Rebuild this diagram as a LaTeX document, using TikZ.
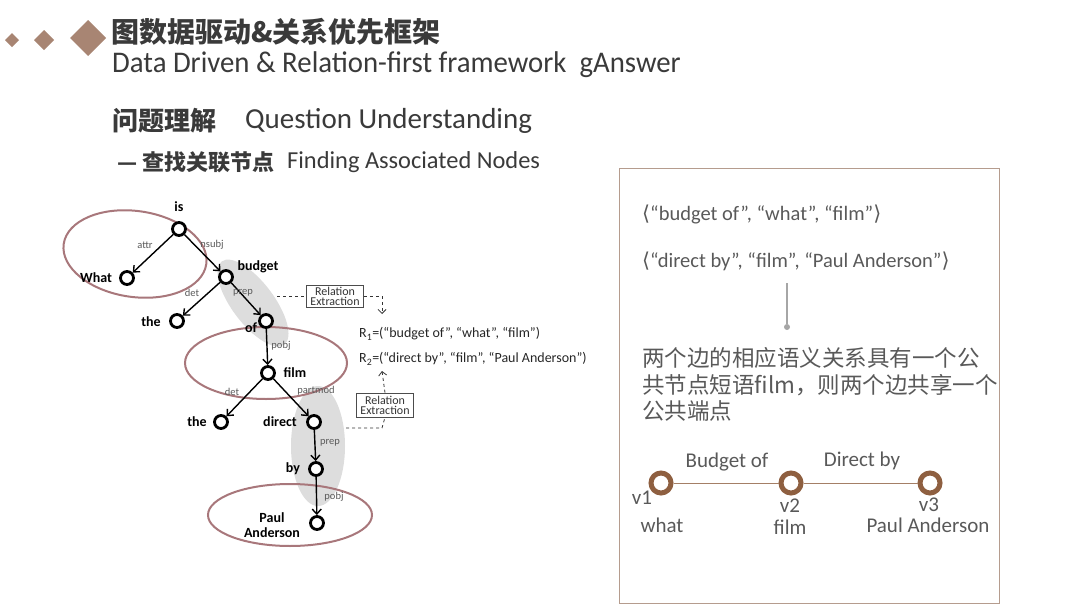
\documentclass[tikz,border=0pt]{standalone}
\usepackage{fontspec}
\setmainfont{Carlito}
\newfontfamily\cjk{Noto Sans CJK SC}
\newfontfamily\dejavu{DejaVu Sans}
\usetikzlibrary{arrows.meta,calc}
\definecolor{titlegray}{HTML}{3A3A3A}
\definecolor{diam}{HTML}{A88573}
\definecolor{textgray}{HTML}{595959}
\definecolor{boxbrown}{HTML}{B59C8E}
\definecolor{ringbrown}{HTML}{8E5F40}
\definecolor{pinkel}{HTML}{A8777B}
\definecolor{shadegray}{HTML}{DDDDDD}
\newcommand{\fs}[1]{\fontsize{#1}{#1}\selectfont}
\tikzset{
  tn/.style={circle,draw=black,line width=2.8pt,fill=white,minimum size=13pt,inner sep=0pt},
  tl/.style={font=\bfseries\fs{14}},
  el/.style={font=\fs{10.5},text=black!65},
  tarr/.style={line width=1.4pt,-{Straight Barb[length=5pt,width=9pt]}},
  relbox/.style={draw=black!70,line width=0.6pt,font=\fs{12},text=black!80,align=center,inner sep=1pt,minimum width=57pt,minimum height=22pt},
  dsh/.style={dashed,line width=0.8pt,black!80},
  pink/.style={draw=pinkel,line width=2pt},
  rt/.style={font=\fs{20.5},text=textgray,anchor=west,inner sep=0pt},
  ring/.style={circle,draw=ringbrown,line width=5pt,fill=white,minimum size=20pt,inner sep=0pt},
  bl/.style={font=\fs{21},text=textgray,inner sep=0pt},
  ttl/.style={anchor=west,inner sep=0pt,text=titlegray}
}
\begin{document}
\begin{tikzpicture}[x=1pt,y=-1pt]
\useasboundingbox (0,0) rectangle (1080,613);
% diamonds
\fill[diam] (12,33)--(19,40)--(12,47)--(5,40)--cycle;
\fill[diam] (44,30)--(54,40)--(44,50)--(34,40)--cycle;
\fill[diam] (88,20)--(106,38)--(88,56)--(70,38)--cycle;
% titles
\node[ttl,font=\cjk\bfseries\fs{28}] (t1) at (111,32) {图数据驱动\&关系优先框架};
\node[ttl,font=\fs{30}] (t2) at (112,65) {\scalebox{0.96}[1]{Data Driven \& Relation-first framework\ \ gAnswer}};
\node[ttl,font=\cjk\bfseries\fs{26}] (t3) at (112,121) {问题理解};
\node[ttl,font=\fs{29}] (t3b) at (245,121) {Question Understanding};
\node[ttl,font=\cjk\bfseries\fs{22}] (t4) at (117,162) {— 查找关联节点};
\node[ttl,font=\fs{24.4}] (t4b) at (287,162) {Finding Associated Nodes};

% shaded ellipses
\fill[shadegray] (253,303) ellipse[x radius=52,y radius=21,rotate=-53];
\fill[shadegray] (318,446) ellipse[x radius=27,y radius=60];
% pink ellipses
\draw[pink] (135,254) ellipse[x radius=72,y radius=43,rotate=-8];
\draw[pink] (266,363) ellipse[x radius=81,y radius=36];
\draw[pink] (290,515) ellipse[x radius=82,y radius=31];

% tree nodes
\node[tn] (is) at (179,229) {};
\node[tn] (what) at (127,278) {};
\node[tn] (budget) at (226,277) {};
\node[tn] (theA) at (177,321) {};
\node[tn] (of) at (266,321) {};
\node[tn] (film) at (268,373) {};
\node[tn] (theB) at (221,422) {};
\node[tn] (direct) at (314,422) {};
\node[tn] (by) at (316,469) {};
\node[tn] (pa) at (317,523) {};
% tree labels
\node[tl] (lis) at (179,207) {is};
\node[tl] (lwhat) at (96,278) {What};
\node[tl] (lbudget) at (258,267) {budget};
\node[tl] (ltheA) at (151,322) {the};
\node[tl] (lof) at (251,328) {of};
\node[tl] (lfilm) at (295,373) {film};
\node[tl] (ltheB) at (197,422) {the};
\node[tl] (ldirect) at (280,422) {direct};
\node[tl] (lby) at (293,469) {by};
\node[tl,align=center] (lpa) at (272,525) {Paul\\[1pt]Anderson};
% edges
\draw[tarr] (is) -- (what);
\draw[tarr] (is) -- (budget);
\draw[tarr] (budget) -- (theA);
\draw[tarr] (budget) -- (of);
\draw[tarr] (of) -- (film);
\draw[tarr] (film) -- (theB);
\draw[tarr] (film) -- (direct);
\draw[tarr] (direct) -- (by);
\draw[tarr] (by) -- (pa);
% edge labels
\node[el] (e1) at (145,245) {attr};
\node[el] (e2) at (212,245) {nsubj};
\node[el] (e3) at (192,293) {det};
\node[el] (e4) at (243,293) {prep};
\node[el] (e5) at (281,346) {pobj};
\node[el] (e6) at (232,392) {det};
\node[el] (e7) at (316,391) {partmod};
\node[el] (e8) at (330,443) {prep};
\node[el] (e9) at (334,497) {pobj};

% relation extraction
\node[relbox] (rel1) at (335,296) {Relation\\[-2pt]Extraction};
\node[relbox,minimum height=24pt] (rel2) at (385,405) {Relation\\[-2pt]Extraction};
\coordinate (s1) at (277,296);
\coordinate (c1) at (382,296);
\coordinate (tip1) at (382,314);
\coordinate (s2) at (346,428);
\coordinate (c2) at (382,428);
\coordinate (tip2) at (382,371);
\draw[dsh] (s1) -- (rel1.west);
\draw[dsh,-{Straight Barb[length=4pt,width=8pt]}] (rel1.east) -- (c1) -- (tip1);
\draw[dsh] (s2) -- (c2) -- (rel2.south);
\draw[dsh,-{Straight Barb[length=4pt,width=8pt]}] (rel2.north) -- (tip2);
\node[anchor=west,font=\fs{14},text=black!85,inner sep=0pt] (r1) at (359,334) {R\textsubscript{1}=(“budget of”, “what”, “film”)};
\node[anchor=west,font=\fs{14},text=black!85,inner sep=0pt] (r2) at (359,359) {R\textsubscript{2}=(“direct by”, “film”, “Paul Anderson”)};

% right box
\draw[boxbrown,line width=1pt] (619,168) rectangle (999,603);
\node[rt] (q1) at (642,214) {{\dejavu ⟨}“budget of”, “what”, “film”{\dejavu ⟩}};
\node[rt] (q2) at (642,261) {{\dejavu ⟨}“direct by”, “film”, “Paul Anderson”{\dejavu ⟩}};
\coordinate (vl) at (787,283);
\node[circle,fill=black!35,inner sep=0pt,minimum size=6pt] (vdot) at (787,327) {};
\draw[black!35,line width=1.2pt] (vl) -- (vdot);
\node[rt,font=\cjk\fs{22.5}] (c1t) at (642,358) {两个边的相应语义关系具有一个公};
\node[rt,font=\cjk\fs{22.5}] (c2t) at (642,385) {共节点短语film，则两个边共享一个};
\node[rt,font=\cjk\fs{22.5}] (c3t) at (642,411) {公共端点};
% bottom graph
\node[ring] (v1) at (661,483) {};
\node[ring] (v2) at (791,483) {};
\node[ring] (v3) at (930,483) {};
\draw[ringbrown!80,line width=0.8pt] (v1) -- (v2);
\draw[ringbrown!80,line width=0.8pt] (v2) -- (v3);
\node[bl] (lb1) at (727,462) {Budget of};
\node[bl] (lb2) at (862,461) {Direct by};
\node[bl] (lv1) at (642,498) {v1};
\node[bl] (lw1) at (662,525) {what};
\node[bl] (lv2) at (790,506) {v2};
\node[bl] (lw2) at (790,527) {film};
\node[bl] (lv3) at (929,505) {v3};
\node[bl] (lw3) at (928,525) {Paul Anderson};
\end{tikzpicture}
\end{document}
